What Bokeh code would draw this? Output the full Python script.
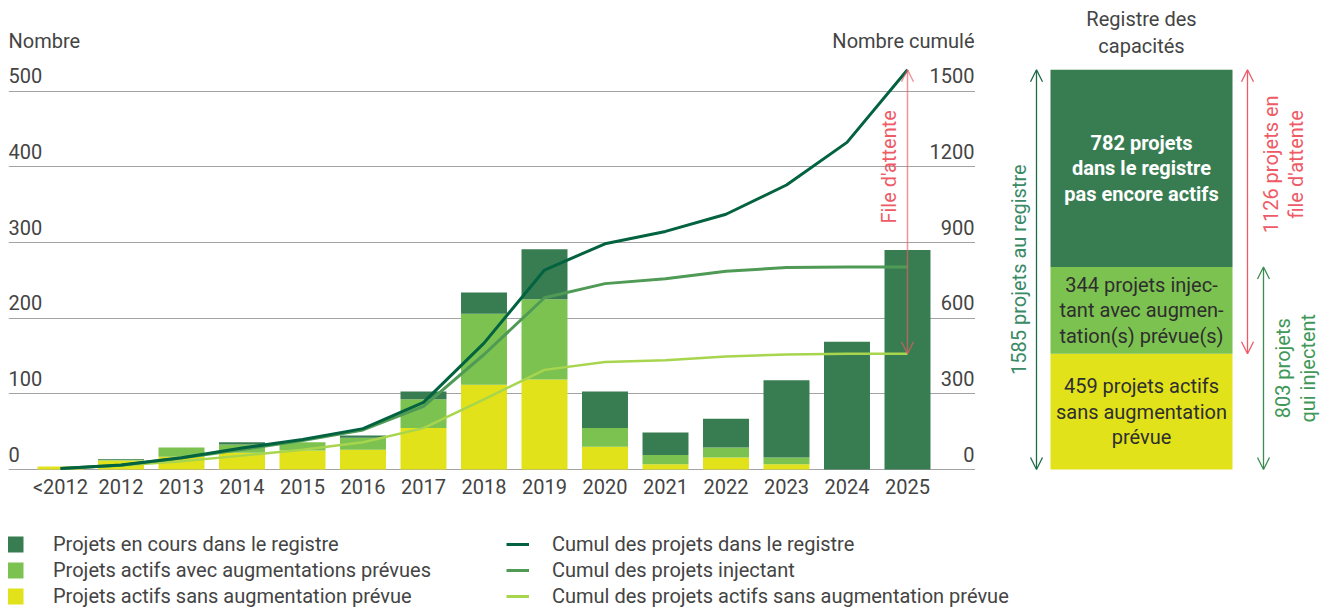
from math import pi
from bokeh.plotting import figure
from bokeh.models import (ColumnDataSource, Range1d, FixedTicker, Arrow, OpenHead,
                          Legend, LegendItem)
from bokeh.layouts import row, column
from bokeh.embed import file_html
from bokeh.resources import INLINE
from bokeh.core.properties import value

# ---------------- data ----------------
years = ["<2012", "2012", "2013", "2014", "2015", "2016", "2017", "2018",
         "2019", "2020", "2021", "2022", "2023", "2024", "2025"]
sans_augmentation = [4, 12, 17, 22, 25, 26, 55, 112, 119, 30, 7, 16, 7, 0, 0]
avec_augmentation = [0, 1, 12, 11, 11, 16, 38, 94, 106, 25, 12, 13, 9, 0, 0]
en_cours = [0, 1, 0, 3, 0, 3, 10, 28, 66, 48, 30, 38, 102, 169, 290]

cumul_registre = [4, 18, 47, 85, 119, 162, 266, 501, 791, 895, 944, 1012, 1128, 1297, 1585]
cumul_injectant = [4, 17, 46, 79, 115, 157, 250, 456, 681, 737, 756, 786, 801, 803, 803]
cumul_sans = [4, 16, 33, 55, 78, 108, 164, 278, 395, 426, 433, 448, 456, 459, 459]

y_ticks = [0, 100, 200, 300, 400, 500]
y_ticks_cumul = [0, 300, 600, 900, 1200, 1500]

registre_values = [459, 344, 782]
registre_labels = ["459 projets actifs\nsans augmentation\nprévue",
                   "344 projets injec-\ntant avec augmen-\ntation(s) prévue(s)",
                   "782 projets\ndans le registre\npas encore actifs"]

legend_bars = ["Projets en cours dans le registre",
               "Projets actifs avec augmentations prévues",
               "Projets actifs sans augmentation prévue"]
legend_lines = ["Cumul des projets dans le registre",
                "Cumul des projets injectant",
                "Cumul des projets actifs sans augmentation prévue"]

# ---------------- style ----------------
FONT = "Roboto"
FS = "20px"
TXT = "#444444"
DARK = "#387d52"
LIGHT = "#7cc250"
YELLOW = "#e1e21a"
L_REG = "#03623f"
L_INJ = "#4f9b56"
L_SANS = "#a8d54e"
RED = "#ee5a66"
GREEN_DK = "#1d6b48"
GREEN_DK_TXT = "#3a8a68"
GREEN_MID = "#3b8c50"
GREEN_MID_TXT = "#3f9858"

Y0, Y1 = -3.965, 609.3
X0, X1 = -0.8595, 15.124
FH = 464
PAD = 8

# ---------------- main chart ----------------
p = figure(frame_width=967, frame_height=FH, x_range=Range1d(X0, X1),
           y_range=Range1d(Y0, Y1), output_backend="svg", toolbar_location=None,
           y_axis_location=None, title=None,
           min_border_left=PAD, min_border_right=0, min_border_top=PAD, min_border_bottom=36)
p.outline_line_color = None
p.background_fill_color = None
p.border_fill_color = None
p.extra_y_ranges = {"cum": Range1d(Y0 * 3, Y1 * 3)}
p.xgrid.visible = False
p.ygrid.ticker = FixedTicker(ticks=y_ticks)
p.ygrid.grid_line_color = "#a3a3a3"
p.ygrid.grid_line_width = 1

xs = list(range(len(years)))
src = ColumnDataSource(dict(x=xs, sans=sans_augmentation, avec=avec_augmentation,
                            cours=en_cours, c_reg=cumul_registre,
                            c_inj=cumul_injectant, c_sans=cumul_sans))
p.vbar_stack(["sans", "avec", "cours"], x="x", width=0.76, source=src,
             fill_color=[YELLOW, LIGHT, DARK], line_color=None)

p.line("x", "c_sans", source=src, y_range_name="cum", line_color=L_SANS, line_width=2.5)
p.line("x", "c_inj", source=src, y_range_name="cum", line_color=L_INJ, line_width=3)
p.line("x", "c_reg", source=src, y_range_name="cum", line_color=L_REG, line_width=3)

# x axis
ax = p.xaxis[0]
ax.ticker = FixedTicker(ticks=xs)
ax.major_label_overrides = {i: y for i, y in zip(xs, years)}
ax.axis_line_color = None
ax.major_tick_line_color = None
ax.minor_tick_line_color = None
ax.major_tick_out = 0
ax.major_tick_in = 0
ax.major_label_standoff = 2
ax.major_label_text_font = FONT
ax.major_label_text_font_size = FS
ax.major_label_text_color = TXT

# y tick labels sitting above their grid lines
p.text(x=[X0] * len(y_ticks), y=y_ticks, text=[str(t) for t in y_ticks],
       text_font=value(FONT), text_font_size=FS, text_color=TXT,
       text_align="left", text_baseline="bottom", y_offset=-8)
p.text(x=[X1] * len(y_ticks_cumul), y=y_ticks_cumul, text=[str(t) for t in y_ticks_cumul],
       y_range_name="cum", text_font=value(FONT), text_font_size=FS, text_color=TXT,
       text_align="right", text_baseline="bottom", y_offset=-8, x_offset=-1)
p.text(x=[X0], y=[567], text=["Nombre"], text_font=value(FONT), text_font_size=FS,
       text_color=TXT, text_align="left", text_baseline="middle")
p.text(x=[X1], y=[567], text=["Nombre cumulé"], text_font=value(FONT), text_font_size=FS,
       text_color=TXT, text_align="right", text_baseline="middle", x_offset=-1)

# queue arrow
last = len(years) - 1
p.add_layout(Arrow(x_start=last, y_start=cumul_sans[-1], x_end=last, y_end=cumul_registre[-1],
                   y_range_name="cum", line_color=RED, line_alpha=0.65, line_width=1.5,
                   start=OpenHead(size=12, line_color=RED, line_alpha=0.65, line_width=1.5),
                   end=OpenHead(size=12, line_color=RED, line_alpha=0.65, line_width=1.5)))
p.text(x=[last], y=[1200], text=["File d'attente"], y_range_name="cum", angle=pi / 2,
       x_offset=-18, text_font=value(FONT), text_font_size=FS, text_color=RED,
       text_align="center", text_baseline="middle")

# ---------------- capacity register panel ----------------
q = figure(frame_width=349, frame_height=FH, x_range=Range1d(0, 349),
           y_range=Range1d(Y0 * 3, Y1 * 3), output_backend="svg", toolbar_location=None,
           x_axis_location=None, y_axis_location=None, title=None,
           min_border_left=0, min_border_right=0, min_border_top=PAD, min_border_bottom=0)
q.outline_line_color = None
q.background_fill_color = None
q.border_fill_color = None
q.xgrid.visible = False
q.ygrid.visible = False

BX = 166
qsrc = ColumnDataSource(dict(x=[BX], sans=[registre_values[0]], avec=[registre_values[1]],
                             cours=[registre_values[2]]))
q.vbar_stack(["sans", "avec", "cours"], x="x", width=182, source=qsrc,
             fill_color=[YELLOW, LIGHT, DARK], line_color=None)

b0 = 0
mids = []
for v in registre_values:
    mids.append(b0 + v / 2)
    b0 += v
total = b0
injectent = registre_values[0] + registre_values[1]

for i, (m, lab) in enumerate(zip(mids, registre_labels)):
    q.text(x=[BX], y=[m], text=[lab], text_font=value(FONT), text_font_size=FS,
           text_color="white" if i == 2 else "#2e2e2e",
           text_font_style="bold" if i == 2 else "normal",
           text_align="center", text_baseline="middle", text_line_height=1.05)

q.text(x=[BX], y=[1733], text=["Registre des\ncapacités"], text_font=value(FONT),
       text_font_size=FS, text_color=TXT, text_align="center", text_baseline="middle",
       text_line_height=1.1)

def dbl_arrow(fig, x, y0, y1, color):
    fig.add_layout(Arrow(x_start=x, y_start=y0, x_end=x, y_end=y1, line_color=color,
                         line_width=1.3,
                         start=OpenHead(size=12, line_color=color, line_width=1.3),
                         end=OpenHead(size=12, line_color=color, line_width=1.3)))

dbl_arrow(q, 61, 0, total, GREEN_DK)
dbl_arrow(q, 272, registre_values[0], total, RED)
dbl_arrow(q, 288, 0, injectent, GREEN_MID)

q.text(x=[43], y=[total / 2], text=["1585 projets au registre"], angle=pi / 2,
       text_font=value(FONT), text_font_size=FS, text_color=GREEN_DK_TXT,
       text_align="center", text_baseline="middle")
q.text(x=[308], y=[1210], text=["1126 projets en\nfile d'attente"], angle=pi / 2,
       text_font=value(FONT), text_font_size=FS, text_color=RED,
       text_align="center", text_baseline="middle", text_line_height=1.05)
q.text(x=[320], y=[injectent / 2], text=["803 projets\nqui injectent"], angle=pi / 2,
       text_font=value(FONT), text_font_size=FS, text_color=GREEN_MID_TXT,
       text_align="center", text_baseline="middle", text_line_height=1.05)

# ---------------- legend strip ----------------
lg = figure(frame_width=1316, frame_height=100, x_range=Range1d(0, 1), y_range=Range1d(0, 1),
            output_backend="svg", toolbar_location=None, x_axis_location=None,
            y_axis_location=None, title=None,
            min_border_left=PAD, min_border_right=0, min_border_top=0, min_border_bottom=0)
lg.outline_line_color = None
lg.xgrid.visible = False
lg.ygrid.visible = False

bar_cols = [DARK, LIGHT, YELLOW]
line_cols = [L_REG, L_INJ, L_SANS]
bar_items = []
for lab, c in zip(legend_bars, bar_cols):
    r = lg.vbar(x=[5], top=[1], width=0.1, fill_color=c, line_color=None)
    bar_items.append(LegendItem(label=lab, renderers=[r]))
line_items = []
for lab, c in zip(legend_lines, line_cols):
    r = lg.line(x=[5, 6], y=[5, 5], line_color=c, line_width=3)
    line_items.append(LegendItem(label=lab, renderers=[r]))

common = dict(orientation="vertical", padding=0, margin=0, spacing=2,
              glyph_height=20, label_height=20, label_text_font=FONT,
              label_text_font_size=FS, label_text_color=TXT,
              border_line_color=None, background_fill_alpha=0)
lg.add_layout(Legend(items=bar_items, location=(-3, 0), glyph_width=20,
                     label_standoff=28, **common))
lg.add_layout(Legend(items=line_items, location=(498, 0), glyph_width=23,
                     label_standoff=23, **common))

layout = column(row(p, q), lg)
open("out.html", "w").write(file_html(layout, INLINE))
